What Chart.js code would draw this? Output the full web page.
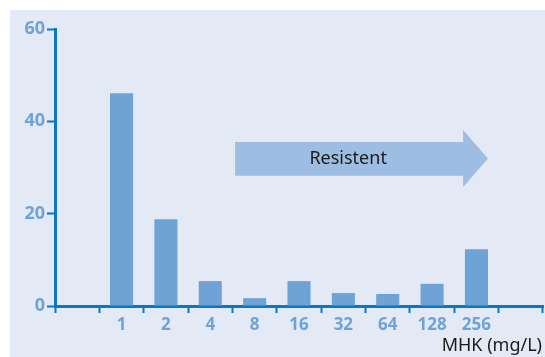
<!DOCTYPE html>
<html>
<head>
<meta charset="utf-8">
<script src="https://cdn.jsdelivr.net/npm/chart.js@4/dist/chart.umd.min.js"></script>
<style>
  html, body { margin: 0; padding: 0; background: #fff; }
  #wrap { width: 545px; height: 357px; position: relative; }
</style>
</head>
<body>
<div id="wrap"><canvas id="chart"></canvas></div>
<script>
// Data
const categories = ['', '1', '2', '4', '8', '16', '32', '64', '128', '256', ''];
const counts = [null, 46.1, 18.8, 5.4, 1.7, 5.4, 2.8, 2.6, 4.8, 12.3, null];
const yTicks = [0, 20, 40, 60];
const axisTitle = 'MHK (mg/L)';
const arrowLabel = 'Resistent';

// Colors
const PANEL = '#e3eaf5';
const BAR = '#6fa3d5';
const AXIS = '#0a78c0';
const LABEL = '#6fa3d6';
const ARROW = '#9dbde2';

// panel background + arrow + axis title
const decor = {
    id: 'decor',
    beforeDraw(chart) {
        const ctx = chart.ctx;
        ctx.save();
        ctx.fillStyle = PANEL;
        ctx.fillRect(10, 10, chart.width - 10, chart.height - 10);
        ctx.restore();
    },
    beforeDatasetsDraw(chart) {
        const { ctx, scales: { x, y } } = chart;
        // arrow in data units (category index / count)
        const x0 = x.getPixelForValue(3.56), x1 = x.getPixelForValue(8.7), x2 = x.getPixelForValue(9.26);
        const yb0 = y.getPixelForValue(35.5), yb1 = y.getPixelForValue(28.2);
        const yh0 = y.getPixelForValue(38.1), yh1 = y.getPixelForValue(25.8);
        ctx.save();
        ctx.fillStyle = ARROW;
        ctx.beginPath();
        ctx.moveTo(x0, yb0);
        ctx.lineTo(x1, yb0);
        ctx.lineTo(x1, yh0);
        ctx.lineTo(x2, (yh0 + yh1) / 2);
        ctx.lineTo(x1, yh1);
        ctx.lineTo(x1, yb1);
        ctx.lineTo(x0, yb1);
        ctx.closePath();
        ctx.fill();
        ctx.fillStyle = '#1a1a1a';
        ctx.font = '18px "Noto Sans"';
        ctx.textAlign = 'center';
        ctx.textBaseline = 'middle';
        ctx.fillText(arrowLabel, (x0 + x1) / 2 - 1, (yb0 + yb1) / 2);
        ctx.restore();
    },
    afterDraw(chart) {
        const ctx = chart.ctx;
        ctx.save();
        ctx.fillStyle = '#1a1a1a';
        ctx.font = '18px "Noto Sans"';
        ctx.textAlign = 'right';
        ctx.textBaseline = 'middle';
        ctx.fillText(axisTitle, chart.width - 3, 346);
        ctx.restore();
    }
};

new Chart(document.getElementById('chart'), {
    type: 'bar',
    data: {
        labels: categories,
        datasets: [{
            data: counts,
            backgroundColor: BAR,
            borderWidth: 0,
            barPercentage: 0.52,
            categoryPercentage: 1
        }]
    },
    options: {
        responsive: true,
        maintainAspectRatio: false,
        animation: false,
        layout: { padding: { top: 29, right: 2, left: 0, bottom: 0 } },
        plugins: { legend: { display: false }, tooltip: { enabled: false } },
        scales: {
            x: {
                offset: true,
                afterFit: s => { s.height = 51; },
                border: { color: AXIS, width: 3 },
                grid: { offset: true, drawOnChartArea: false, color: AXIS, tickLength: 7, tickWidth: 2 },
                ticks: { color: LABEL, font: { family: 'Noto Sans', size: 17, weight: 'bold' }, padding: 2 }
            },
            y: {
                min: 0, max: 60,
                afterFit: s => { s.width = 55; },
                afterBuildTicks: s => { s.ticks = yTicks.map(v => ({ value: v })); },
                border: { color: AXIS, width: 3 },
                grid: { drawOnChartArea: false, color: AXIS, tickLength: 8, tickWidth: 2 },
                ticks: { color: LABEL, font: { family: 'Noto Sans', size: 18, weight: 'bold' }, padding: 2 }
            }
        }
    },
    plugins: [decor]
});
</script>
</body>
</html>
